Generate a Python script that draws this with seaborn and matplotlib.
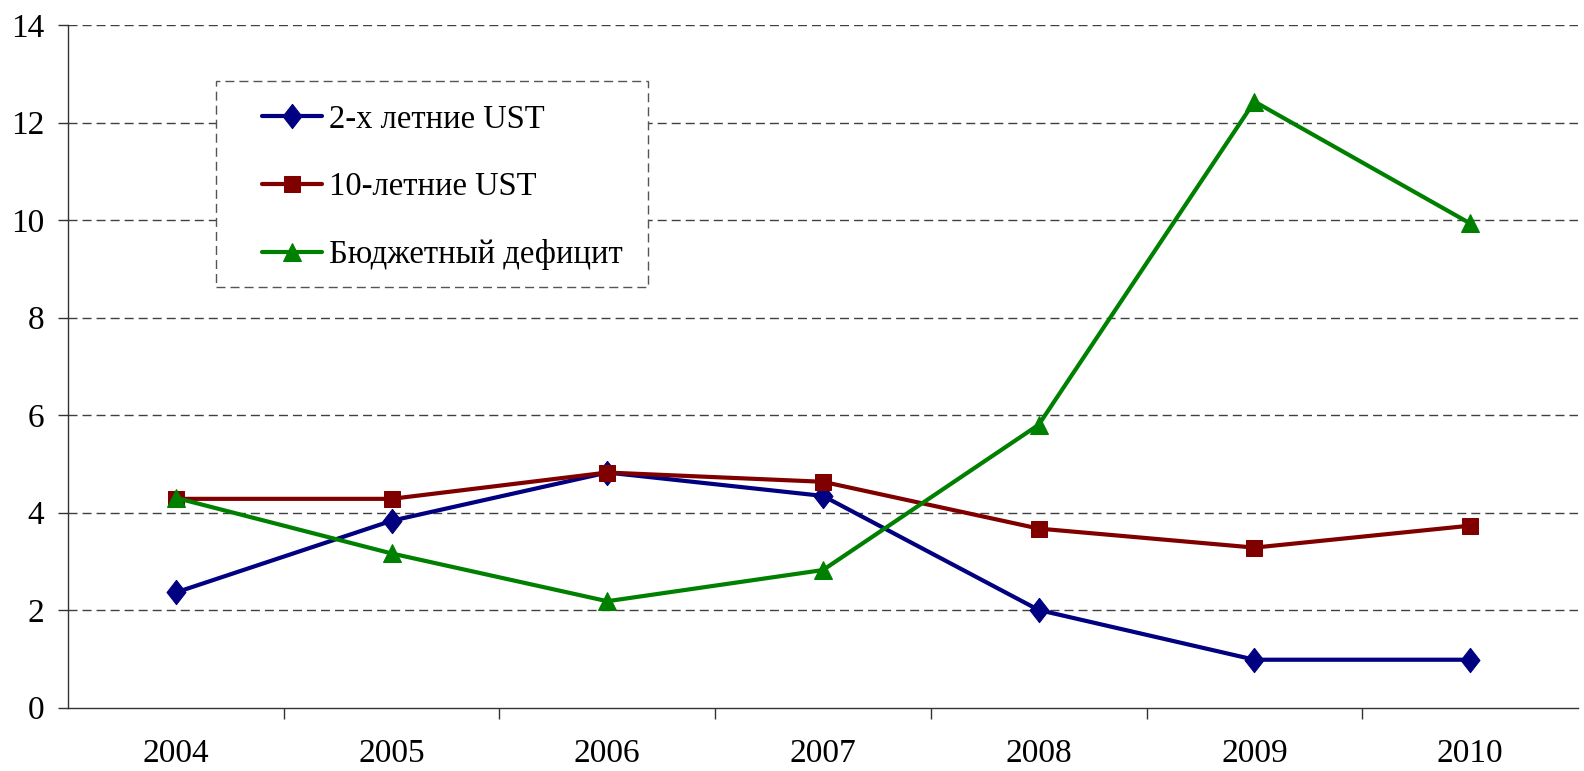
import matplotlib
matplotlib.use("Agg")
import matplotlib.pyplot as plt
import seaborn as sns
import pandas as pd
from matplotlib.patches import Rectangle

years = ["2004", "2005", "2006", "2007", "2008", "2009", "2010"]
ust2 = [2.36, 3.83, 4.82, 4.34, 2.0, 0.98, 0.98]
ust10 = [4.28, 4.28, 4.82, 4.63, 3.67, 3.28, 3.73]
deficit = [4.3, 3.16, 2.18, 2.82, 5.8, 12.43, 9.93]
labels = ["2-х летние UST", "10-летние UST", "Бюджетный дефицит"]
yticks = [0, 2, 4, 6, 8, 10, 12, 14]

sns.set_style("white")
plt.rcParams["font.family"] = ["Liberation Serif", "DejaVu Serif"]
plt.rcParams["lines.scale_dashes"] = False
plt.rcParams["text.color"] = "black"
plt.rcParams["xtick.color"] = "#333333"
plt.rcParams["ytick.color"] = "#333333"
plt.rcParams["xtick.labelcolor"] = "black"
plt.rcParams["ytick.labelcolor"] = "black"

fig = plt.figure(figsize=(15.84, 7.71), dpi=100)
ax = fig.add_axes([68 / 1584, 1 - 707.5 / 771, 1510 / 1584, 682.5 / 771])

diamond = [(0, 1), (0.78, 0), (0, -1), (-0.78, 0), (0, 1)]
pos = list(range(len(years)))
series = [
    (ust2, labels[0], "#000080", diamond, 17.5),
    (ust10, labels[1], "#800000", "s", 12),
    (deficit, labels[2], "#008000", "^", 13),
]
for vals, lab, col, mk, ms in series:
    df = pd.DataFrame({"x": pos, "y": vals})
    sns.lineplot(data=df, x="x", y="y", ax=ax, color=col, marker=mk,
                 markersize=ms, markeredgecolor=col, linewidth=3.0,
                 label=lab, zorder=3)

ax.set_xlim(-0.5, len(years) - 0.5)
ax.set_ylim(0, 14)
ax.set_yticks(yticks)
ax.set_yticklabels([str(v) for v in yticks])
ax.set_xticks(pos)
ax.set_xticklabels(years)
ax.set_xticks([p + 0.5 for p in pos[:-1]], minor=True)
ax.tick_params(axis="x", which="major", bottom=True, length=0, pad=22, labelsize=24)
ax.tick_params(axis="x", which="minor", bottom=True, length=8, width=1.0, direction="out")
ax.tick_params(axis="y", which="major", left=True, length=7, width=1.0, direction="out", pad=10, labelsize=24)
ax.set_xlabel("")
ax.set_ylabel("")

for v in yticks[1:]:
    ax.axhline(v, color="#404040", linewidth=1.0, linestyle=(0, (6.5, 3.6)), zorder=1)

for s in ["top", "right"]:
    ax.spines[s].set_visible(False)
for s in ["left", "bottom"]:
    ax.spines[s].set_color("#333333")
    ax.spines[s].set_linewidth(1.0)

# dashed legend box
bx0, by0 = (216 - 68) / 1510, (707.5 - 287) / 682.5
bw, bh = (648 - 216) / 1510, (287 - 81) / 682.5
ax.add_patch(Rectangle((bx0, by0), bw, bh, transform=ax.transAxes, fill=True,
                       facecolor="white", edgecolor="#555555", linewidth=1.0,
                       linestyle=(0, (6.5, 3.6)), zorder=4))
leg = ax.legend(loc="upper left", bbox_to_anchor=((262 - 68) / 1510, (707.5 - 104) / 682.5),
                frameon=False, fontsize=23.5, handlelength=1.85, handletextpad=0.2,
                labelspacing=1.14, borderpad=0, borderaxespad=0)
leg.set_zorder(5)

fig.savefig("out.png", dpi=100)
